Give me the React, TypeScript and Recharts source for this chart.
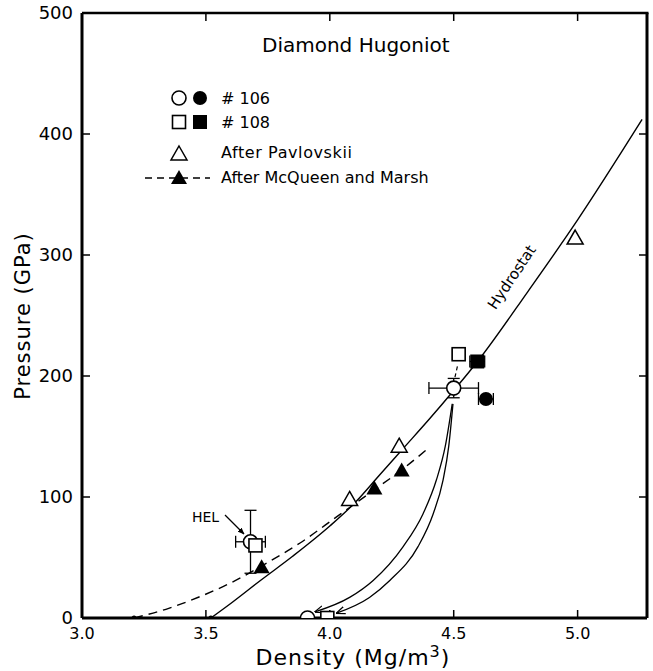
import React from 'react'
import { ComposedChart, ErrorBar, Line, Scatter, XAxis, YAxis } from 'recharts'

// axis ticks
const xTicks = [3.0, 3.5, 4.0, 4.5, 5.0]
const yTicks = [0, 100, 200, 300, 400, 500]

// curves (density Mg/m3, pressure GPa)
const hydrostat = [
  { x: 3.52, y: 0 }, { x: 3.6, y: 12 }, { x: 3.72, y: 31 }, { x: 3.85, y: 51 },
  { x: 4.0, y: 76 }, { x: 4.1, y: 95 }, { x: 4.2, y: 118 }, { x: 4.3, y: 141 },
  { x: 4.4, y: 164 }, { x: 4.5, y: 188 }, { x: 4.6, y: 213 }, { x: 4.8, y: 270 },
  { x: 5.0, y: 329 }, { x: 5.18, y: 386 }, { x: 5.26, y: 412 },
]
const mcqueenCurve = [
  { x: 3.21, y: 0 }, { x: 3.35, y: 8 }, { x: 3.48, y: 18 }, { x: 3.6, y: 29 },
  { x: 3.75, y: 46 }, { x: 3.88, y: 62 }, { x: 4.03, y: 84 }, { x: 4.18, y: 106 },
  { x: 4.3, y: 124 }, { x: 4.39, y: 139 },
]
// release paths, listed from the arrow tip up to the shocked state
const releaseLeft = [
  { x: 3.94, y: 5 }, { x: 4.08, y: 17 }, { x: 4.175, y: 31 }, { x: 4.296, y: 59 },
  { x: 4.376, y: 86 }, { x: 4.43, y: 114 }, { x: 4.466, y: 142 }, { x: 4.494, y: 177 },
]
const releaseRight = [
  { x: 4.027, y: 4 }, { x: 4.16, y: 17 }, { x: 4.242, y: 31 }, { x: 4.356, y: 59 },
  { x: 4.417, y: 86 }, { x: 4.457, y: 114 }, { x: 4.48, y: 142 }, { x: 4.497, y: 177 },
]
const squareLink = [{ x: 4.505, y: 199 }, { x: 4.515, y: 208 }]
const curveStarts = [{ x: 3.21, y: 0 }, { x: 3.52, y: 0 }]

// #106 shots
const open106 = [
  { x: 4.5, y: 190, ex: 0.1, ey: 8 },
  { x: 3.68, y: 63, ex: 0.06, ey: 26 },
]
const open106Released = [{ x: 3.91, y: 0 }]
const filled106 = [{ x: 4.63, y: 181, ex: 0.03 }]

// #108 shots
const open108 = [{ x: 4.52, y: 218, ex: 0.025 }]
const open108Low = [{ x: 3.7, y: 60 }, { x: 3.99, y: 0 }]
const filled108 = [{ x: 4.595, y: 212, ex: 0.03 }]

// literature
const pavlovskii = [{ x: 4.08, y: 98 }, { x: 4.28, y: 142 }, { x: 4.99, y: 314 }]
const mcqueen = [{ x: 3.725, y: 42 }, { x: 4.18, y: 107 }, { x: 4.29, y: 122 }]

const FONT = '"DejaVu Sans", sans-serif'

// plot box (must match chart margins / axis sizes below)
const X_DOMAIN: [number, number] = [3.0, 5.28]
const Y_DOMAIN: [number, number] = [0, 500]
const PLOT = { left: 82, right: 647, top: 13, bottom: 618 }
const px = (v: number) =>
  PLOT.left + ((v - X_DOMAIN[0]) / (X_DOMAIN[1] - X_DOMAIN[0])) * (PLOT.right - PLOT.left)
const py = (v: number) =>
  PLOT.bottom - ((v - Y_DOMAIN[0]) / (Y_DOMAIN[1] - Y_DOMAIN[0])) * (PLOT.bottom - PLOT.top)

const openCircle = (p: any) => (
  <circle cx={p.cx} cy={p.cy} r={7} fill="#fff" stroke="#000" strokeWidth={1.6} />
)
const filledCircle = (p: any) => <circle cx={p.cx} cy={p.cy} r={7} fill="#000" />
const openSquare = (p: any) => (
  <rect x={p.cx - 6.5} y={p.cy - 6.5} width={13} height={13} fill="#fff" stroke="#000" strokeWidth={1.6} />
)
const filledSquare = (p: any) => (
  <rect x={p.cx - 7} y={p.cy - 7} width={14} height={14} fill="#000" />
)
const tri = (cx: number, cy: number) =>
  `M${cx},${cy - 8} L${cx + 8},${cy + 6} L${cx - 8},${cy + 6} Z`
const openTriangle = (p: any) => (
  <path d={tri(p.cx, p.cy)} fill="#fff" stroke="#000" strokeWidth={1.5} />
)
const filledTriangle = (p: any) => <path d={tri(p.cx, p.cy)} fill="#000" />
const smallDot = (p: any) => <circle cx={p.cx} cy={p.cy} r={2.5} fill="#000" />

const Overlay = () => (
  <svg
    width={653}
    height={671}
    style={{ position: 'absolute', left: 0, top: 0, pointerEvents: 'none' }}
    fontFamily={FONT}
  >
    <defs>
      <marker id="vArrow" viewBox="0 0 10 10" refX="9.5" refY="5" markerWidth="9" markerHeight="9"
        orient="auto-start-reverse" markerUnits="userSpaceOnUse">
        <path d="M0,1 L10,5 L0,9" fill="none" stroke="#000" strokeWidth={1.4} />
      </marker>
      <marker id="solidArrow" viewBox="0 0 10 10" refX="9" refY="5" markerWidth="7" markerHeight="7"
        orient="auto" markerUnits="userSpaceOnUse">
        <path d="M0,1 L10,5 L0,9 Z" fill="#000" />
      </marker>
    </defs>

    {/* top and right frame with inward ticks */}
    <line x1={PLOT.left} y1={PLOT.top} x2={PLOT.right + 1.5} y2={PLOT.top} stroke="#000" strokeWidth={2.5} />
    <line x1={PLOT.right} y1={PLOT.top} x2={PLOT.right} y2={PLOT.bottom} stroke="#000" strokeWidth={3} />
    {xTicks.slice(1).map((t) => (
      <line key={`tx${t}`} x1={px(t)} y1={PLOT.top} x2={px(t)} y2={PLOT.top + 8} stroke="#000" strokeWidth={1.5} />
    ))}
    {yTicks.slice(1, -1).map((t) => (
      <line key={`ty${t}`} x1={PLOT.right - 8} y1={py(t)} x2={PLOT.right} y2={py(t)} stroke="#000" strokeWidth={1.5} />
    ))}

    <text x={262} y={52} fontSize={20}>Diamond Hugoniot</text>

    {/* legend */}
    <circle cx={179} cy={98} r={7} fill="#fff" stroke="#000" strokeWidth={1.6} />
    <circle cx={200} cy={98} r={7} fill="#000" />
    <text x={221} y={104} fontSize={16}># 106</text>
    <rect x={172.5} y={115.5} width={13} height={13} fill="#fff" stroke="#000" strokeWidth={1.6} />
    <rect x={193} y={115} width={14} height={14} fill="#000" />
    <text x={221} y={128} fontSize={16}># 108</text>
    <path d={tri(179, 154)} fill="#fff" stroke="#000" strokeWidth={1.5} />
    <text x={221} y={158} fontSize={16} letterSpacing={0.6}>After Pavlovskii</text>
    <line x1={145} y1={178} x2={210} y2={178} stroke="#000" strokeWidth={1.4} strokeDasharray="7 5" />
    <path d={tri(179, 178)} fill="#000" />
    <text x={221} y={183} fontSize={16}>After McQueen and Marsh</text>

    {/* annotations */}
    <text x={192} y={522} fontSize={14}>HEL</text>
    <line x1={225} y1={515} x2={244} y2={534} stroke="#000" strokeWidth={1.2} markerEnd="url(#solidArrow)" />
    <text x={0} y={0} fontSize={15} textAnchor="middle"
      transform="translate(516,280) rotate(-56)">Hydrostat</text>

    {/* axis titles */}
    <text x={0} y={0} fontSize={21} textAnchor="middle" letterSpacing={1}
      transform="translate(30,316) rotate(-90)">Pressure (GPa)</text>
    <text x={353} y={665} fontSize={22} textAnchor="middle" letterSpacing={1}>
      Density (Mg/m<tspan dy={-8} fontSize={16}>3</tspan><tspan dy={8}>)</tspan>
    </text>
  </svg>
)

const App = () => (
  <div style={{ position: 'absolute', left: 0, top: 0, width: 653, height: 671, background: '#fff' }}>
    <ComposedChart width={653} height={671} margin={{ top: 13, right: 6, left: 0, bottom: 0 }}>
      <XAxis
        dataKey="x"
        type="number"
        domain={X_DOMAIN}
        allowDataOverflow
        ticks={xTicks}
        tickFormatter={(v: number) => v.toFixed(1)}
        height={53}
        tickSize={-8}
        tickMargin={18}
        axisLine={{ stroke: '#000', strokeWidth: 3 }}
        tickLine={{ stroke: '#000', strokeWidth: 1.5 }}
        tick={{ fill: '#000', fontSize: 16, fontFamily: FONT }}
      />
      <YAxis
        type="number"
        domain={Y_DOMAIN}
        allowDataOverflow
        ticks={yTicks}
        width={82}
        tickSize={-8}
        tickMargin={17}
        axisLine={{ stroke: '#000', strokeWidth: 3 }}
        tickLine={{ stroke: '#000', strokeWidth: 1.5 }}
        tick={{ fill: '#000', fontSize: 18, fontFamily: FONT }}
      />

      <Line data={hydrostat} dataKey="y" type="monotone" stroke="#000" strokeWidth={1.4}
        dot={false} activeDot={false} isAnimationActive={false} />
      <Line data={mcqueenCurve} dataKey="y" type="monotone" stroke="#000" strokeWidth={1.4}
        strokeDasharray="9 6" dot={false} activeDot={false} isAnimationActive={false} />
      <Line data={releaseLeft} dataKey="y" type="monotone" stroke="#000" strokeWidth={1.3}
        dot={false} activeDot={false} isAnimationActive={false} markerStart="url(#vArrow)" />
      <Line data={releaseRight} dataKey="y" type="monotone" stroke="#000" strokeWidth={1.3}
        dot={false} activeDot={false} isAnimationActive={false} markerStart="url(#vArrow)" />
      <Line data={squareLink} dataKey="y" type="linear" stroke="#000" strokeWidth={1.2}
        strokeDasharray="4 3" dot={false} activeDot={false} isAnimationActive={false} />

      <Scatter data={curveStarts} dataKey="y" shape={smallDot} isAnimationActive={false} />
      <Scatter data={pavlovskii} dataKey="y" shape={openTriangle} isAnimationActive={false} />
      <Scatter data={mcqueen} dataKey="y" shape={filledTriangle} isAnimationActive={false} />
      <Scatter data={open106} dataKey="y" shape={openCircle} isAnimationActive={false}>
        <ErrorBar dataKey="ex" direction="x" width={6} stroke="#000" strokeWidth={1.3} />
        <ErrorBar dataKey="ey" direction="y" width={6} stroke="#000" strokeWidth={1.3} />
      </Scatter>
      <Scatter data={open108Low} dataKey="y" shape={openSquare} isAnimationActive={false} />
      <Scatter data={open106Released} dataKey="y" shape={openCircle} isAnimationActive={false} />
      <Scatter data={filled106} dataKey="y" shape={filledCircle} isAnimationActive={false}>
        <ErrorBar dataKey="ex" direction="x" width={6} stroke="#000" strokeWidth={1.3} />
      </Scatter>
      <Scatter data={open108} dataKey="y" shape={openSquare} isAnimationActive={false}>
        <ErrorBar dataKey="ex" direction="x" width={6} stroke="#000" strokeWidth={1.3} />
      </Scatter>
      <Scatter data={filled108} dataKey="y" shape={filledSquare} isAnimationActive={false}>
        <ErrorBar dataKey="ex" direction="x" width={6} stroke="#000" strokeWidth={1.3} />
      </Scatter>
    </ComposedChart>
    <Overlay />
  </div>
)

export default App
